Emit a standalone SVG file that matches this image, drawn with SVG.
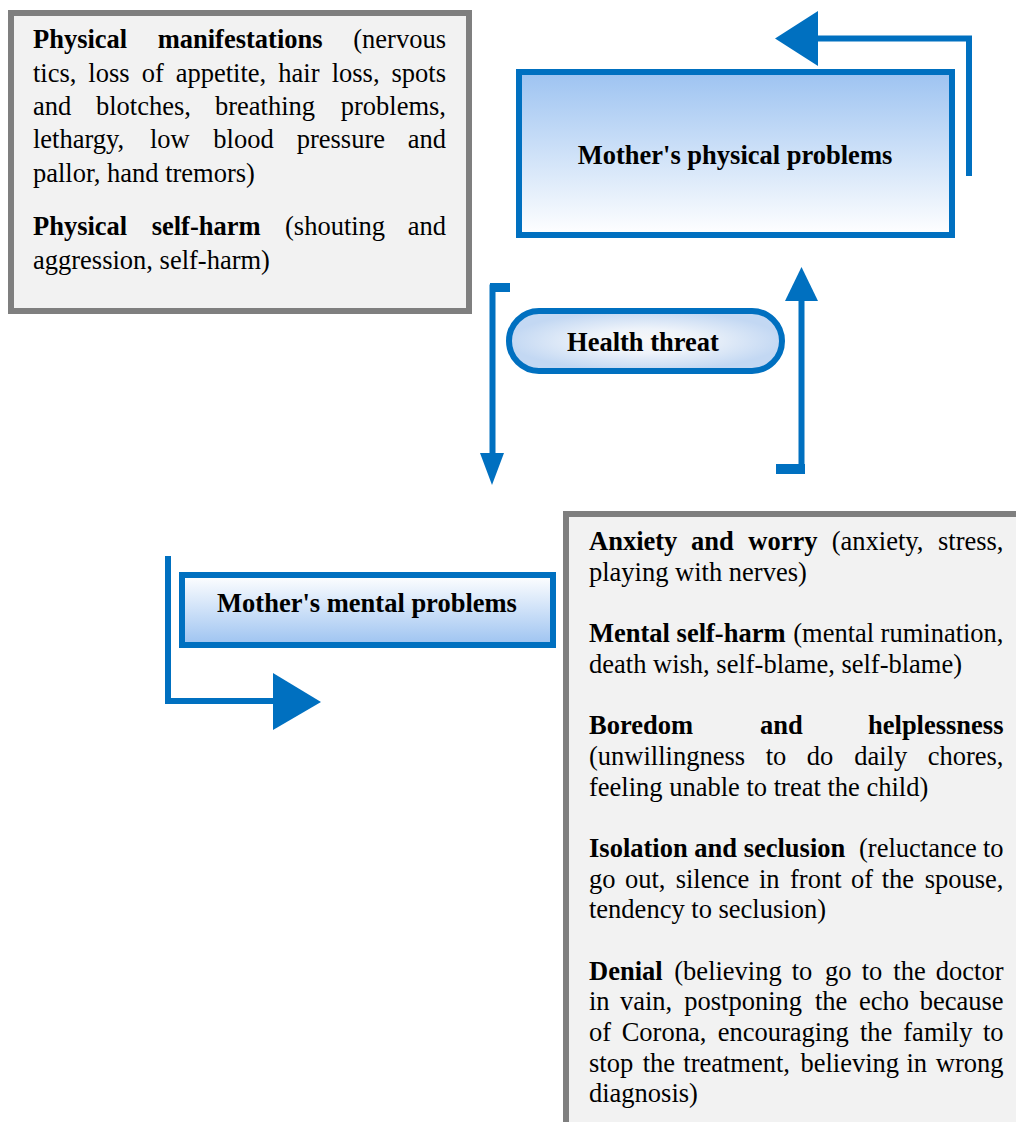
<svg xmlns="http://www.w3.org/2000/svg" width="1016" height="1122" viewBox="0 0 1016 1122">
<style>
.t{font-family:"Liberation Serif",serif;font-size:26.5px}
.b{font-weight:bold}
.e{text-anchor:end}
.m{text-anchor:middle;font-weight:bold}
.grey{fill:#f2f2f2;stroke:#7f7f7f;stroke-width:6}
.blue{stroke:#0070c0;stroke-width:6}
.ln{fill:none;stroke:#0070c0;stroke-width:6}
.ah{fill:#0070c0}
</style>
<defs>
<linearGradient id="gDown" x1="0" y1="0" x2="0" y2="1"><stop offset="0" stop-color="#9dc3f1"/><stop offset="1" stop-color="#ffffff"/></linearGradient>
<linearGradient id="gUp" x1="0" y1="0" x2="0" y2="1"><stop offset="0" stop-color="#ffffff"/><stop offset="1" stop-color="#9dc3f1"/></linearGradient>
<radialGradient id="gPill" cx="0.5" cy="0.5" r="0.5"><stop offset="0" stop-color="#f7f7f7"/><stop offset="0.4" stop-color="#eef3fa"/><stop offset="1" stop-color="#c3d8f3"/></radialGradient>
</defs>
<g id="physical-list">
<rect class="grey" x="11" y="13" width="458" height="298"/>
<text class="t" y="48.3"><tspan class="b" x="33">Physical</tspan><tspan class="b" x="157.7">manifestations</tspan><tspan class="e" x="446">(nervous</tspan></text>
<text class="t" y="81.7"><tspan x="33">tics,</tspan><tspan x="88.3">loss</tspan><tspan x="141.7">of</tspan><tspan x="175.7">appetite,</tspan><tspan x="278.3">hair</tspan><tspan x="331.7">loss,</tspan><tspan class="e" x="446">spots</tspan></text>
<text class="t" y="115"><tspan x="33">and</tspan><tspan x="96">blotches,</tspan><tspan x="215">breathing</tspan><tspan class="e" x="446">problems,</tspan></text>
<text class="t" y="148.3"><tspan x="33">lethargy,</tspan><tspan x="150">low</tspan><tspan x="213.3">blood</tspan><tspan x="296.7">pressure</tspan><tspan class="e" x="446">and</tspan></text>
<text class="t" x="33" y="181.7">pallor, hand tremors)</text>
<text class="t" y="235"><tspan class="b" x="33">Physical</tspan><tspan class="b" x="151.7">self-harm</tspan><tspan x="285">(shouting</tspan><tspan class="e" x="446">and</tspan></text>
<text class="t" x="33" y="269.3">aggression, self-harm)</text>
</g>
<g id="physical-problems">
<rect class="blue" x="519" y="72" width="433" height="163" fill="url(#gDown)"/>
<text class="t m" x="735" y="164">Mother's physical problems</text>
</g>
<g id="health-threat">
<rect class="blue" x="509" y="311" width="273" height="60" rx="30" fill="url(#gPill)" stroke-width="7.5"/>
<text class="t m" x="643" y="351">Health threat</text>
</g>
<g id="mental-problems">
<rect class="blue" x="182" y="575" width="371" height="70" fill="url(#gUp)"/>
<text class="t m" x="367" y="612">Mother's mental problems</text>
</g>
<g id="mental-list">
<rect class="grey" x="566" y="514" width="500" height="700"/>
<text class="t" y="550"><tspan class="b" x="589">Anxiety</tspan><tspan class="b" x="691">and</tspan><tspan class="b" x="748.3">worry</tspan><tspan x="831.7">(anxiety,</tspan><tspan class="e" x="1003.5">stress,</tspan></text>
<text class="t" x="589" y="581">playing with nerves)</text>
<text class="t" y="642"><tspan class="b" x="589">Mental self-harm</tspan><tspan x="793.3">(mental</tspan><tspan class="e" x="1003.5">rumination,</tspan></text>
<text class="t" x="589" y="673">death wish, self-blame, self-blame)</text>
<text class="t" y="734"><tspan class="b" x="589">Boredom</tspan><tspan class="b" x="760">and</tspan><tspan class="b e" x="1003.5">helplessness</tspan></text>
<text class="t" y="765"><tspan x="589">(unwillingness</tspan><tspan x="765.7">to</tspan><tspan x="806.7">do</tspan><tspan x="854.3">daily</tspan><tspan class="e" x="1003.5">chores,</tspan></text>
<text class="t" x="589" y="796">feeling unable to treat the child)</text>
<text class="t" y="857"><tspan class="b" x="589">Isolation and seclusion</tspan><tspan x="859">(reluctance</tspan><tspan class="e" x="1003.5">to</tspan></text>
<text class="t" y="888"><tspan x="589">go</tspan><tspan x="625">out,</tspan><tspan x="675.7">silence</tspan><tspan x="759">in</tspan><tspan x="790">front</tspan><tspan x="851">of</tspan><tspan x="881.7">the</tspan><tspan class="e" x="1003.5">spouse,</tspan></text>
<text class="t" x="589" y="918">tendency to seclusion)</text>
<text class="t" y="980"><tspan class="b" x="589">Denial</tspan><tspan x="674.3">(believing</tspan><tspan x="791.7">to</tspan><tspan x="825">go</tspan><tspan x="861.7">to</tspan><tspan x="893.3">the</tspan><tspan class="e" x="1003.5">doctor</tspan></text>
<text class="t" y="1010"><tspan x="589">in</tspan><tspan x="620">vain,</tspan><tspan x="684.3">postponing</tspan><tspan x="815">the</tspan><tspan x="859">echo</tspan><tspan class="e" x="1003.5">because</tspan></text>
<text class="t" y="1041"><tspan x="589">of</tspan><tspan x="621.7">Corona,</tspan><tspan x="717.7">encouraging</tspan><tspan x="860">the</tspan><tspan x="903.3">family</tspan><tspan class="e" x="1003.5">to</tspan></text>
<text class="t" y="1072"><tspan x="589">stop</tspan><tspan x="642.7">the</tspan><tspan x="683.3">treatment,</tspan><tspan x="800.5">believing</tspan><tspan x="906.5">in</tspan><tspan class="e" x="1003.5">wrong</tspan></text>
<text class="t" x="589" y="1102">diagnosis)</text>
</g>
<g id="connectors">
<path class="ln" d="M969,176 V38.5 H816"/>
<polygon class="ah" points="818,11 818,66 775,38.5"/>
<path class="ln" d="M510,287.5 H492.5 V455"/>
<rect class="ah" x="490" y="283" width="20" height="9"/>
<polygon class="ah" points="480,453 504,453 492,485"/>
<path class="ln" d="M776,469 H801.5 V299" stroke-width="7"/>
<rect class="ah" x="776" y="464" width="29" height="10"/>
<polygon class="ah" points="785,301 818,301 801.5,267"/>
<path class="ln" d="M168,556 V701 H275"/>
<polygon class="ah" points="273,673 273,730 321,702"/>
</g>
</svg>
